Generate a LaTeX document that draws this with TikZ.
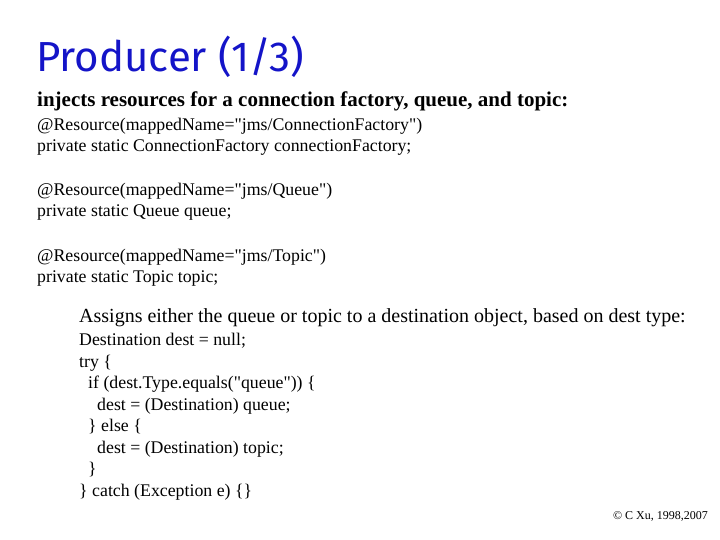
\documentclass[tikz,border=0pt]{standalone}
\usepackage{fontspec}
\setmainfont{Liberation Serif}[Ligatures=TeXOff]
\newfontfamily\titlefont{Fira Sans}
\newcommand{\dq}{"}
\begin{document}
\begin{tikzpicture}[x=1pt,y=-1pt,
  txt/.style={anchor=base west,inner sep=0pt,font=\fontsize{17.8}{20}\selectfont},
  txtb/.style={anchor=base west,inner sep=0pt,font=\fontsize{20}{22}\selectfont}]
\useasboundingbox (0,0) rectangle (720,540);
\node[anchor=base west,inner sep=0pt,font=\titlefont\fontsize{42}{46}\selectfont,text={rgb,255:red,20;green,20;blue,200}] (title) at (36,72) {Producer (1/3)};
\node[anchor=base west,inner sep=0pt,font=\bfseries\fontsize{21}{24}\selectfont] (h1) at (37,107) {injects resources for a connection factory, queue, and topic:};
\node[txt] (a1) at (37,131) {@Resource(mappedName=\dq jms/ConnectionFactory\dq)};
\node[txt] (a2) at (37,152) {private static ConnectionFactory connectionFactory;};
\node[txt] (a3) at (37,196) {@Resource(mappedName=\dq jms/Queue\dq)};
\node[txt] (a4) at (37,217) {private static Queue queue;};
\node[txt] (a5) at (37,261) {@Resource(mappedName=\dq jms/Topic\dq)};
\node[txt] (a6) at (37,282) {private static Topic topic;};
\node[txtb] (h2) at (79,322) {Assigns either the queue or topic to a destination object, based on dest type:};
\node[txt] (b1) at (79,345) {Destination dest = null;};
\node[txt] (b2) at (79,367) {try \{};
\node[txt] (b3) at (88,388) {if (dest.Type.equals(\dq queue\dq)) \{};
\node[txt] (b4) at (97,410) {dest = (Destination) queue;};
\node[txt] (b5) at (88,431) {\} else \{};
\node[txt] (b6) at (97,453) {dest = (Destination) topic;};
\node[txt] (b7) at (88,474) {\}};
\node[txt] (b8) at (79,496) {\} catch (Exception e) \{\}};
\node[anchor=base east,inner sep=0pt,font=\fontsize{12}{14}\selectfont] (c) at (708,519) {© C Xu, 1998,2007};
\end{tikzpicture}
\end{document}
